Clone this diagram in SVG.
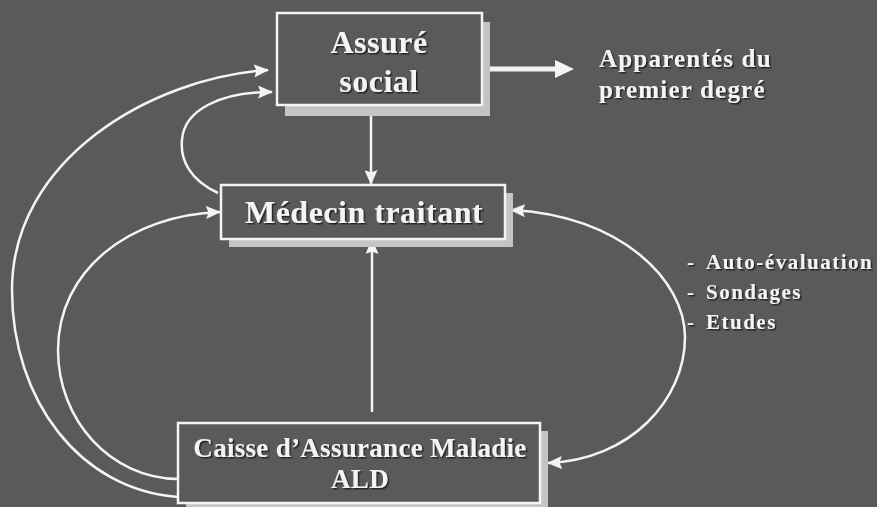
<svg xmlns="http://www.w3.org/2000/svg" width="877" height="507" viewBox="0 0 877 507">
  <defs>
    <style>
      .bg { fill: #5a5a5a; }
      .shadow { fill: #c4c4c4; }
      .box { fill: #5a5a5a; stroke: #f4f4f4; stroke-width: 2.5; }
      .label { font-family: "Liberation Serif", "Times New Roman", serif; font-weight: bold; fill: #f4f4f4; filter: url(#txtShadow); }
      .big { font-size: 32px; text-anchor: middle; letter-spacing: 0.5px; }
      .mid { font-size: 27px; text-anchor: middle; letter-spacing: 0.3px; }
      .side { font-size: 25px; letter-spacing: 1.2px; }
      .list { font-size: 21px; letter-spacing: 1.5px; }
      .conn { fill: none; stroke: #f4f4f4; stroke-width: 2.5; }
    </style>
    <filter id="txtShadow" x="-10%" y="-20%" width="120%" height="150%">
      <feDropShadow dx="1.5" dy="1.5" stdDeviation="0.6" flood-color="#1e1e1e" flood-opacity="0.9"/>
    </filter>
    <marker id="arrow" viewBox="0 0 15 13" refX="14" refY="6.5" markerWidth="15" markerHeight="13" markerUnits="userSpaceOnUse" orient="auto-start-reverse">
      <path d="M0,0 L15,6.5 L0,13 L2.5,6.5 Z" fill="#f4f4f4"/>
    </marker>
  </defs>

  <rect class="bg" x="0" y="0" width="877" height="507"/>

  <!-- connectors -->
  <g id="connectors">
    <!-- Assuré social -> Médecin traitant -->
    <line class="conn" x1="371" y1="114" x2="371" y2="184" marker-end="url(#arrow)"/>
    <!-- Caisse -> Médecin traitant -->
    <line class="conn" x1="372" y1="412" x2="372" y2="240" marker-end="url(#arrow)"/>
    <!-- Assuré social -> Apparentés (thick arrow) -->
    <line x1="490" y1="69" x2="558" y2="69" stroke="#f4f4f4" stroke-width="5"/>
    <polygon points="555,60 574,69 555,78" fill="#f4f4f4"/>
    <!-- Médecin traitant -> Assuré social (small loop) -->
    <path class="conn" d="M218,193 C190,180 180,160 182,140 C184,110 220,92 272,92" marker-end="url(#arrow)"/>
    <!-- Caisse -> Assuré social (outer loop) -->
    <path class="conn" d="M178,497 C80,490 12,400 12,290 C12,160 150,78 268,70" marker-end="url(#arrow)"/>
    <!-- Caisse -> Médecin traitant (inner loop) -->
    <path class="conn" d="M178,479 C110,478 58,420 58,350 C58,270 130,215 220,212" marker-end="url(#arrow)"/>
    <!-- Médecin traitant <-> Caisse (right loop) -->
    <path class="conn" d="M511,210 C620,215 685,280 685,337 C685,400 630,460 548,463" marker-start="url(#arrow)" marker-end="url(#arrow)"/>
  </g>

  <!-- nodes -->
  <g id="assure">
    <rect class="shadow" x="285" y="22" width="205" height="94"/>
    <rect class="box" x="277" y="13" width="205" height="92"/>
    <text class="label big" x="379" y="53">Assuré</text>
    <text class="label big" x="379" y="92">social</text>
  </g>

  <g id="medecin">
    <rect class="shadow" x="229" y="193" width="284" height="54"/>
    <rect class="box" x="221" y="185" width="284" height="54"/>
    <text class="label big" x="364" y="223">Médecin traitant</text>
  </g>

  <g id="caisse">
    <rect class="shadow" x="186" y="431" width="362" height="80"/>
    <rect class="box" x="178" y="423" width="362" height="80"/>
    <text class="label mid" x="360" y="457">Caisse d’Assurance Maladie</text>
    <text class="label mid" x="360" y="488">ALD</text>
  </g>

  <g id="apparentes">
    <text class="label side" x="599" y="67">Apparentés du</text>
    <text class="label side" x="599" y="98">premier degré</text>
  </g>

  <g id="evaluation">
    <text class="label list" y="269"><tspan x="687">-</tspan><tspan x="706">Auto-évaluation</tspan></text>
    <text class="label list" y="299"><tspan x="687">-</tspan><tspan x="706">Sondages</tspan></text>
    <text class="label list" y="329"><tspan x="687">-</tspan><tspan x="706">Etudes</tspan></text>
  </g>
</svg>
